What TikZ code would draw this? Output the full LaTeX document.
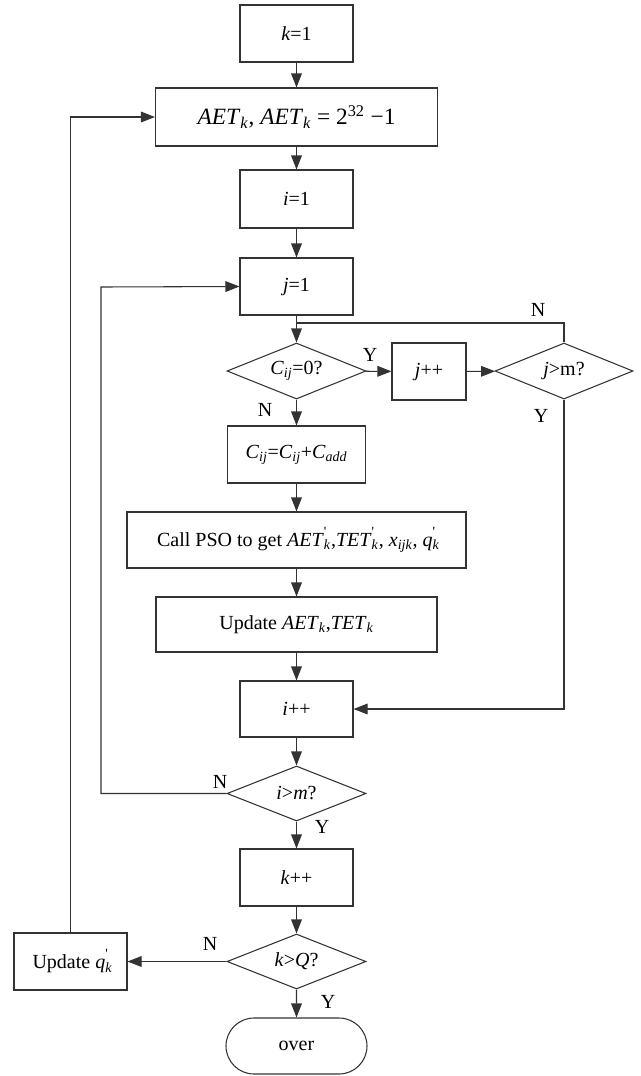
\documentclass[tikz,border=0pt]{standalone}
\usepackage{fontspec}
\setmainfont{Liberation Serif}
\usetikzlibrary{shapes.geometric,shapes.misc,arrows.meta}
\newcommand{\mi}[1]{\textit{#1}}
\newcommand{\msb}[1]{\textsubscript{\textit{#1}}}
\newcommand{\mps}[1]{\rlap{\textsubscript{\textit{#1}}}\raisebox{0.15em}{\textsuperscript{\textquotesingle}}\hspace{0.2em}}
\tikzset{
  ln/.style={draw=black!80, line width=0.8pt},
  arr/.style={ln, -{Triangle[length=10.5pt,width=8pt]}},
  box/.style={ln, rectangle, inner sep=0pt, font=\fontsize{15}{18}\selectfont},
  dia/.style={ln, diamond, inner sep=0pt, aspect=2.5, font=\fontsize{15}{18}\selectfont},
  term/.style={ln, rounded rectangle, inner sep=0pt, font=\fontsize{15}{18}\selectfont},
  lab/.style={font=\fontsize{15}{18}\selectfont, inner sep=0pt}
}
\begin{document}
\begin{tikzpicture}[x=0.75pt,y=-0.75pt]
\useasboundingbox (0,0) rectangle (641,1076);
\node[box, minimum width={113*0.75pt}, minimum height={57*0.75pt}] (k1) at (296.5,33.5) {\mi{k}=1};
\node[box, minimum width={282*0.75pt}, minimum height={58*0.75pt}, font=\fontsize{17.5}{20}\selectfont] (aet) at (296.5,117) {\mi{AET}\msb{k}, \mi{AET}\msb{k} = 2\textsuperscript{32} −1};
\node[box, minimum width={113*0.75pt}, minimum height={58*0.75pt}] (i1) at (296.5,199) {\mi{i}=1};
\node[box, minimum width={113*0.75pt}, minimum height={57*0.75pt}] (j1) at (296.5,286.5) {\mi{j}=1};
\node[dia, minimum width={139*0.75pt}, minimum height={56*0.75pt}] (cij) at (296.5,371) {\mi{C}\msb{ij}=0?};
\node[box, minimum width={74*0.75pt}, minimum height={57*0.75pt}] (jpp) at (429,371.5) {\mi{j}++};
\node[dia, minimum width={138*0.75pt}, minimum height={56*0.75pt}] (jm) at (564,371) {\mi{j}>m?};
\node[box, minimum width={138*0.75pt}, minimum height={57*0.75pt}] (cadd) at (296.5,454.5) {\mi{C}\msb{ij}=\mi{C}\msb{ij}+\mi{C}\msb{add}};
\node[box, minimum width={339*0.75pt}, minimum height={56*0.75pt}] (pso) at (296.5,540) {Call PSO to get \mi{AET}\mps{k},\mi{TET}\mps{k}, \mi{x}\msb{ijk}, \mi{q}\mps{k}};
\node[box, minimum width={281*0.75pt}, minimum height={55*0.75pt}] (upd) at (296.5,624.5) {Update \mi{AET}\msb{k},\mi{TET}\msb{k}};
\node[box, minimum width={113*0.75pt}, minimum height={56*0.75pt}] (ipp) at (296.5,709) {\mi{i}++};
\node[dia, minimum width={139*0.75pt}, minimum height={55*0.75pt}] (im) at (296.5,793.5) {\mi{i}>\mi{m}?};
\node[box, minimum width={113*0.75pt}, minimum height={57*0.75pt}] (kpp) at (296.5,877.5) {\mi{k}++};
\node[dia, minimum width={139*0.75pt}, minimum height={55*0.75pt}] (kq) at (296.5,961.5) {\mi{k}>\mi{Q}?};
\node[box, minimum width={113*0.75pt}, minimum height={57*0.75pt}] (updq) at (70.5,961.5) {Update \mi{q}\mps{k}};
\node[term, minimum width={141*0.75pt}, minimum height={56*0.75pt}] (over) at (296.5,1046) {over};
\coordinate (jn) at (296.5,323);
\coordinate (lx) at (101,287);
% connectors
\draw[arr] (k1) -- (aet);
\draw[arr] (aet) -- (i1);
\draw[arr] (i1) -- (j1);
\draw[arr] (j1) -- (cij);
\draw[arr] (cij) -- (jpp);
\draw[arr] (jpp) -- (jm);
\draw[ln] (jm.north) |- (jn);
\draw[arr] (jm.south) |- (ipp.east);
\draw[arr] (cij) -- (cadd);
\draw[arr] (cadd) -- (pso);
\draw[arr] (pso) -- (upd);
\draw[arr] (upd) -- (ipp);
\draw[arr] (ipp) -- (im);
\draw[arr] (im.west) -| (lx) -- (j1.west);
\draw[arr] (im) -- (kpp);
\draw[arr] (kpp) -- (kq);
\draw[arr] (kq) -- (updq);
\draw[arr] (updq.north) |- (aet.west);
\draw[arr] (kq) -- (over);
% labels
\node[lab] (ly1) at (370,355) {Y};
\node[lab] (ln1) at (538,310) {N};
\node[lab] (ln2) at (265,410) {N};
\node[lab] (ly2) at (541,416) {Y};
\node[lab] (ln3) at (220,782) {N};
\node[lab] (ly3) at (322,827) {Y};
\node[lab] (ln4) at (210,944) {N};
\node[lab] (ly4) at (328,1002) {Y};
\end{tikzpicture}
\end{document}
